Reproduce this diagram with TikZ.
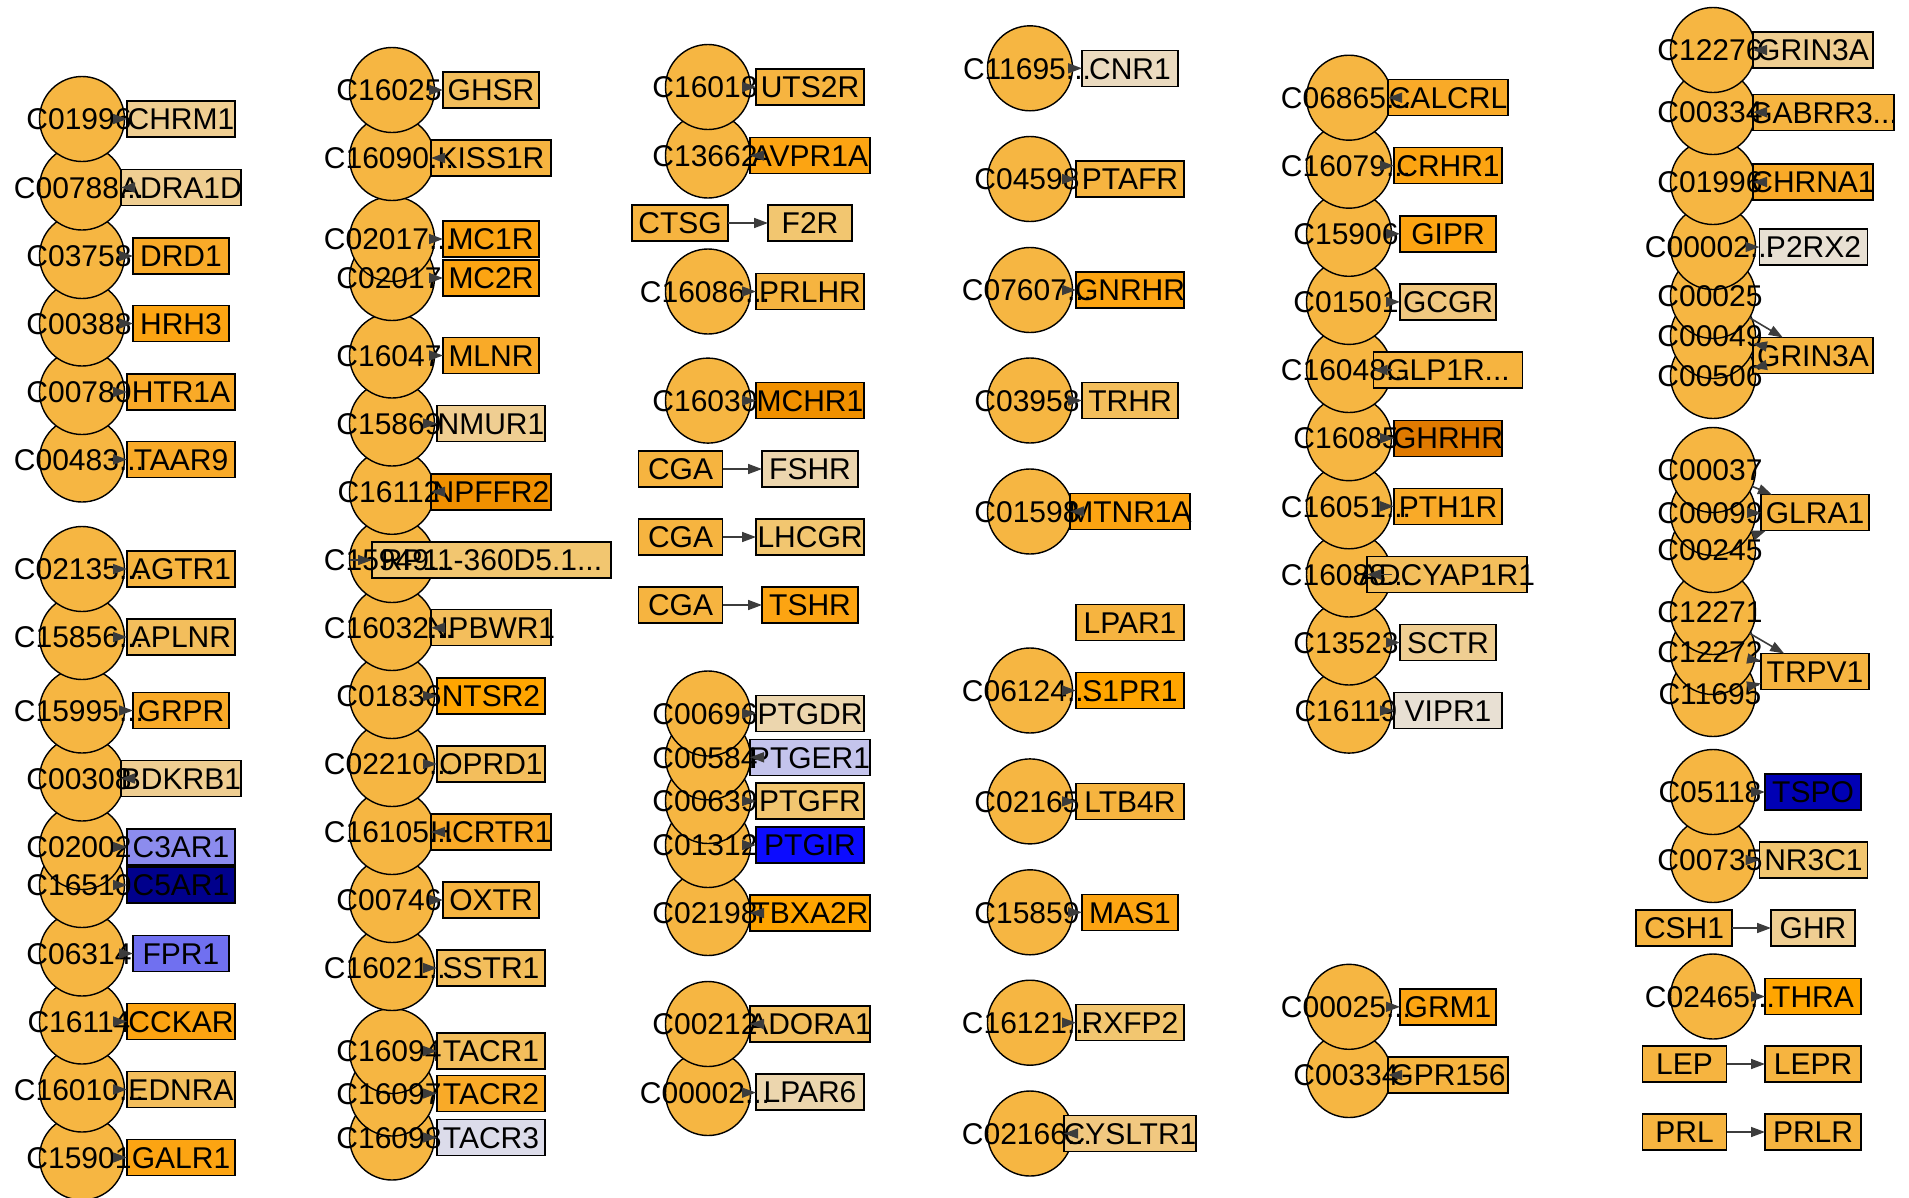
\documentclass[tikz,border=0pt]{standalone}
\usepackage{fontspec}
\setmainfont{Liberation Sans}
\usetikzlibrary{arrows.meta}
\pgfdeclarelayer{paper}
\pgfdeclarelayer{bg}
\pgfsetlayers{paper,bg,main}
\definecolor{cpdfill}{RGB}{246,182,66}
\definecolor{t1}{RGB}{239,206,146}
\definecolor{t1b}{RGB}{241,200,128}
\definecolor{t2}{RGB}{236,214,174}
\definecolor{t2b}{RGB}{235,219,192}
\definecolor{t3}{RGB}{232,224,211}
\definecolor{o0}{RGB}{242,198,112}
\definecolor{o1}{RGB}{243,190,92}
\definecolor{o2}{RGB}{246,180,64}
\definecolor{o3}{RGB}{249,170,40}
\definecolor{o4}{RGB}{252,164,18}
\definecolor{o5}{RGB}{255,165,0}
\definecolor{o6}{RGB}{240,144,0}
\definecolor{o7}{RGB}{224,122,0}
\definecolor{lav}{RGB}{220,220,234}
\definecolor{peri}{RGB}{196,196,236}
\definecolor{b1}{RGB}{140,140,238}
\definecolor{b2}{RGB}{112,112,240}
\definecolor{b3}{RGB}{12,12,255}
\definecolor{b4}{RGB}{0,0,180}
\definecolor{b5}{RGB}{0,0,140}
\definecolor{edgecol}{RGB}{60,60,60}
\newcommand\ctext[1]{\hbox to 0pt{\hss#1\hss}}
\newcommand\cltext[1]{\hbox to 0pt{\hss#1\hss\kern6pt}}
\tikzset{
  lbl/.style={font=\fontsize{30}{32}\selectfont, text height=21.5pt, text depth=0pt, inner sep=0pt, outer sep=0pt},
  cpdshape/.style={draw=black, line width=1.4pt, fill=cpdfill},
  cpd/.style={lbl, circle, minimum size=85pt},
  gene/.style 2 args={lbl, rectangle, draw=black, line width=1.4pt, fill=#2, minimum width=#1pt, minimum height=36pt},
  arr/.style={draw=edgecol, line width=1.6pt, -{Triangle[length=14pt,width=10pt]}}
}
\newcommand\cpd[4]{%
  \begin{pgfonlayer}{bg}\draw[cpdshape] (#2,#3) circle[radius=42.5pt];\end{pgfonlayer}
  \node[cpd] (#1) at (#2,#3) {\cltext{#4}};}
\begin{document}
\begin{tikzpicture}[x=1pt,y=-1pt]
\begin{pgfonlayer}{paper}
\fill[white] (0,0) rectangle (1909,1197);
\end{pgfonlayer}
\useasboundingbox (0,0) rectangle (1909,1197);
% ---------------- column 1 boxes
\node[gene={108}{t1}] (ga1) at (181,119) {\ctext{CHRM1}};
\node[gene={120}{t1}] (ga2) at (181,187.5) {\ctext{ADRA1D}};
\node[gene={96}{o3}] (ga3) at (181,256) {\ctext{DRD1}};
\node[gene={96}{o4}] (ga4) at (181,323.5) {\ctext{HRH3}};
\node[gene={108}{o3}] (ga5) at (181,392) {\ctext{HTR1A}};
\node[gene={108}{o3}] (ga6) at (181,459.5) {\ctext{TAAR9}};
\node[gene={108}{o2}] (ga7) at (181,569) {\ctext{AGTR1}};
\node[gene={108}{o1}] (ga8) at (181,637) {\ctext{APLNR}};
\node[gene={96}{o3}] (ga9) at (181,710.5) {\ctext{GRPR}};
\node[gene={120}{t1}] (ga10) at (181,778.5) {\ctext{BDKRB1}};
\node[gene={108}{b1}] (ga11) at (181,847) {\ctext{C3AR1}};
\node[gene={108}{b5}] (ga12) at (181,885) {\ctext{C5AR1}};
\node[gene={96}{b2}] (ga13) at (181,953.5) {\ctext{FPR1}};
\node[gene={108}{o4}] (ga14) at (181,1021.5) {\ctext{CCKAR}};
\node[gene={108}{o1}] (ga15) at (181,1089.5) {\ctext{EDNRA}};
\node[gene={108}{o4}] (ga16) at (181,1157.5) {\ctext{GALR1}};
% ---------------- column 2 boxes
\node[gene={96}{o1}] (gb1) at (491,90) {\ctext{GHSR}};
\node[gene={120}{o2}] (gb2) at (491,158) {\ctext{KISS1R}};
\node[gene={96}{o4}] (gb3) at (491,239) {\ctext{MC1R}};
\node[gene={96}{o4}] (gb4) at (491,278) {\ctext{MC2R}};
\node[gene={96}{o3}] (gb5) at (491,355.5) {\ctext{MLNR}};
\node[gene={108}{t1}] (gb6) at (491,423.5) {\ctext{NMUR1}};
\node[gene={120}{o6}] (gb7) at (491,491.8) {\ctext{NPFFR2}};
\node[gene={239}{o0}] (gb8) at (491.5,560) {\ctext{RP11-360D5.1...}};
\node[gene={120}{o1}] (gb9) at (491,627.5) {\ctext{NPBWR1}};
\node[gene={108}{o5}] (gb10) at (491,696) {\ctext{NTSR2}};
\node[gene={108}{o1}] (gb11) at (491,764) {\ctext{OPRD1}};
\node[gene={120}{o3}] (gb12) at (491,832) {\ctext{HCRTR1}};
\node[gene={96}{o2}] (gb13) at (491,900) {\ctext{OXTR}};
\node[gene={108}{o1}] (gb14) at (491,968) {\ctext{SSTR1}};
\node[gene={108}{o1}] (gb15) at (491,1051) {\ctext{TACR1}};
\node[gene={108}{o3}] (gb16) at (491,1093.5) {\ctext{TACR2}};
\node[gene={108}{lav}] (gb17) at (491,1137.5) {\ctext{TACR3}};
% ---------------- column 3 boxes
\node[gene={108}{o2}] (gc1) at (810,87) {\ctext{UTS2R}};
\node[gene={120}{o4}] (gc2) at (810,155.5) {\ctext{AVPR1A}};
\node[gene={96}{o2}] (lc3) at (680,223) {\ctext{CTSG}};
\node[gene={84}{o0}] (gc3) at (810,223) {\ctext{F2R}};
\node[gene={108}{o2}] (gc4) at (810,291.5) {\ctext{PRLHR}};
\node[gene={108}{o6}] (gc5) at (810,400.6) {\ctext{MCHR1}};
\node[gene={84}{o2}] (lc6) at (680.5,469) {\ctext{CGA}};
\node[gene={96}{t2}] (gc6) at (810,469) {\ctext{FSHR}};
\node[gene={84}{o2}] (lc7) at (680.5,537) {\ctext{CGA}};
\node[gene={108}{o0}] (gc7) at (810,537) {\ctext{LHCGR}};
\node[gene={84}{o2}] (lc8) at (680.5,605) {\ctext{CGA}};
\node[gene={96}{o4}] (gc8) at (810,605) {\ctext{TSHR}};
\node[gene={108}{t2}] (gc9) at (810,713.5) {\ctext{PTGDR}};
\node[gene={120}{peri}] (gc10) at (810,757.3) {\ctext{PTGER1}};
\node[gene={108}{o0}] (gc11) at (810,801) {\ctext{PTGFR}};
\node[gene={108}{b3}] (gc12) at (810,845) {\ctext{PTGIR}};
\node[gene={120}{o5}] (gc13) at (810,913) {\ctext{TBXA2R}};
\node[gene={120}{o1}] (gc14) at (810,1024) {\ctext{ADORA1}};
\node[gene={108}{t2}] (gc15) at (810,1092) {\ctext{LPAR6}};
% ---------------- column 4 boxes
\node[gene={96}{t2b}] (gd1) at (1130,68.3) {\ctext{CNR1}};
\node[gene={108}{o2}] (gd2) at (1130,179) {\ctext{PTAFR}};
\node[gene={108}{o4}] (gd3) at (1130,290) {\ctext{GNRHR}};
\node[gene={96}{o1}] (gd4) at (1130,400.5) {\ctext{TRHR}};
\node[gene={120}{o4}] (gd5) at (1130,511.5) {\ctext{MTNR1A}};
\node[gene={108}{o2}] (gd6) at (1130,622.5) {\ctext{LPAR1}};
\node[gene={108}{o5}] (gd7) at (1130,690.5) {\ctext{S1PR1}};
\node[gene={108}{o2}] (gd8) at (1130,801.4) {\ctext{LTB4R}};
\node[gene={96}{o4}] (gd9) at (1130,912.3) {\ctext{MAS1}};
\node[gene={108}{o0}] (gd10) at (1130,1022.7) {\ctext{RXFP2}};
\node[gene={132}{t1b}] (gd11) at (1130,1133.5) {\ctext{CYSLTR1}};
% ---------------- column 5 boxes
\node[gene={120}{o3}] (ge1) at (1448,97.7) {\ctext{CALCRL}};
\node[gene={108}{o4}] (ge2) at (1448,165.7) {\ctext{CRHR1}};
\node[gene={96}{o4}] (ge3) at (1448,233.8) {\ctext{GIPR}};
\node[gene={96}{t1b}] (ge4) at (1448,301.9) {\ctext{GCGR}};
\node[gene={149}{o2}] (ge5) at (1448,370) {\ctext{GLP1R...}};
\node[gene={108}{o7}] (ge6) at (1448,438.2) {\ctext{GHRHR}};
\node[gene={108}{o3}] (ge7) at (1448,506.3) {\ctext{PTH1R}};
\node[gene={160}{o1}] (ge8) at (1447,574.5) {\ctext{ADCYAP1R1}};
\node[gene={96}{t1}] (ge9) at (1448,642.5) {\ctext{SCTR}};
\node[gene={108}{t3}] (ge10) at (1448,710.6) {\ctext{VIPR1}};
\node[gene={96}{o4}] (ge11) at (1448,1006.8) {\ctext{GRM1}};
\node[gene={120}{o2}] (ge12) at (1448,1075) {\ctext{GPR156}};
% ---------------- column 6 boxes
\node[gene={120}{t1}] (gf1) at (1813,50) {\ctext{GRIN3A}};
\node[gene={141}{o2}] (gf2) at (1823.5,112.5) {\ctext{GABRR3...}};
\node[gene={120}{o3}] (gf3) at (1813,182) {\ctext{CHRNA1}};
\node[gene={108}{t3}] (gf4) at (1813.5,247) {\ctext{P2RX2}};
\node[gene={120}{o2}] (gf5) at (1813,355.5) {\ctext{GRIN3A}};
\node[gene={108}{o2}] (gf6) at (1815,512.6) {\ctext{GLRA1}};
\node[gene={108}{o2}] (gf7) at (1815,671.5) {\ctext{TRPV1}};
\node[gene={96}{b4}] (gf8) at (1813,792) {\ctext{TSPO}};
\node[gene={108}{o0}] (gf9) at (1813.5,860) {\ctext{NR3C1}};
\node[gene={96}{o2}] (lf10) at (1684,928) {\ctext{CSH1}};
\node[gene={84}{t1}] (gf10) at (1813,928) {\ctext{GHR}};
\node[gene={96}{o5}] (gf11) at (1813,996.5) {\ctext{THRA}};
\node[gene={84}{o2}] (lf12) at (1684.5,1064) {\ctext{LEP}};
\node[gene={96}{o2}] (gf12) at (1813,1064) {\ctext{LEPR}};
\node[gene={84}{o2}] (lf13) at (1684.5,1132) {\ctext{PRL}};
\node[gene={96}{o2}] (gf13) at (1813,1132) {\ctext{PRLR}};
% ---------------- compounds (lower ones first, upper ones on top)
\cpd{ca16}{82}{1157.5}{C15901}
\cpd{ca15}{82}{1089.5}{C16010...}
\cpd{ca14}{82}{1021.5}{C16114}
\cpd{ca13}{82}{953.5}{C06314}
\cpd{ca12}{82}{885}{C16510}
\cpd{ca11}{82}{847}{C02002}
\cpd{ca10}{82}{778.5}{C00308}
\cpd{ca9}{82}{710.5}{C15995...}
\cpd{ca8}{82}{637}{C15856...}
\cpd{ca7}{82}{569}{C02135...}
\cpd{ca6}{82}{459.5}{C00483...}
\cpd{ca5}{82}{392}{C00780}
\cpd{ca4}{82}{323.5}{C00388}
\cpd{ca3}{82}{256}{C03758}
\cpd{ca2}{82}{187.5}{C00788...}
\cpd{ca1}{82}{119}{C01996}
%
\cpd{cb17}{392}{1137.5}{C16098}
\cpd{cb16}{392}{1093.5}{C16097}
\cpd{cb15}{392}{1051}{C16094}
\cpd{cb14}{392}{968}{C16021...}
\cpd{cb13}{392}{900}{C00746}
\cpd{cb12}{392}{832}{C16105...}
\cpd{cb11}{392}{764}{C02210...}
\cpd{cb10}{392}{696}{C01836}
\cpd{cb9}{392}{628}{C16032...}
\cpd{cb8}{392}{560}{C15949...}
\cpd{cb7}{392}{491.8}{C16112}
\cpd{cb6}{392}{423.5}{C15869}
\cpd{cb5}{392}{355.5}{C16047}
\cpd{cb4}{392}{278}{C02017}
\cpd{cb3}{392}{239}{C02017...}
\cpd{cb2}{392}{158}{C16090...}
\cpd{cb1}{392}{90}{C16025}
%
\cpd{cc15}{708}{1093}{C00002...}
\cpd{cc14}{708}{1024}{C00212}
\cpd{cc13}{708}{913}{C02198}
\cpd{cc12}{708}{845}{C01312}
\cpd{cc11}{708}{801}{C00639}
\cpd{cc10}{708}{757.3}{C00584}
\cpd{cc9}{708}{713.5}{C00696}
\cpd{cc5}{708}{400.6}{C16030}
\cpd{cc4}{708}{291.5}{C16086...}
\cpd{cc2}{708}{155.5}{C13662}
\cpd{cc1}{708}{87}{C16018}
%
\cpd{cd11}{1030}{1133.5}{C02166...}
\cpd{cd10}{1030}{1022.7}{C16121...}
\cpd{cd9}{1030}{912.3}{C15859}
\cpd{cd8}{1030}{801.4}{C02165}
\cpd{cd7}{1030}{690.5}{C06124...}
\cpd{cd5}{1030}{511.5}{C01598}
\cpd{cd4}{1030}{400.5}{C03958}
\cpd{cd3}{1030}{290}{C07607...}
\cpd{cd2}{1030}{179}{C04598}
\cpd{cd1}{1030}{68.3}{C11695...}
%
\cpd{ce12}{1349}{1075}{C00334}
\cpd{ce11}{1349}{1006.8}{C00025...}
\cpd{ce10}{1349}{710.6}{C16119}
\cpd{ce9}{1349}{642.5}{C13523}
\cpd{ce8}{1349}{574.5}{C16088...}
\cpd{ce7}{1349}{506.3}{C16051...}
\cpd{ce6}{1349}{438.2}{C16085}
\cpd{ce5}{1349}{370}{C16048...}
\cpd{ce4}{1349}{301.9}{C01501}
\cpd{ce3}{1349}{233.8}{C15906}
\cpd{ce2}{1349}{165.7}{C16079...}
\cpd{ce1}{1349}{97.7}{C06865...}
%
\cpd{cf11}{1713}{996.5}{C02465...}
\cpd{cf9}{1713}{860}{C00735}
\cpd{cf8}{1713}{792}{C05118}
\cpd{cf7c}{1713}{694}{C11695}
\cpd{cf7b}{1713}{652}{C12272}
\cpd{cf7a}{1713}{612}{C12271}
\cpd{cf6c}{1713}{550}{C00245}
\cpd{cf6b}{1713}{513}{C00099}
\cpd{cf6a}{1713}{470}{C00037}
\cpd{cf5c}{1713}{376}{C00506}
\cpd{cf5b}{1713}{336}{C00049}
\cpd{cf5a}{1713}{296}{C00025}
\cpd{cf4}{1713}{247}{C00002...}
\cpd{cf3}{1713}{182}{C01996}
\cpd{cf2}{1713}{112}{C00334}
\cpd{cf1}{1713}{50}{C12276}
% ---------------- connectors
\foreach \i in {1,...,16} {\draw[arr] (ca\i) -- (ga\i);}
\foreach \i in {1,...,17} {\draw[arr] (cb\i) -- (gb\i);}
\foreach \i in {1,2,4,5,9,10,11,12,13,14,15} {\draw[arr] (cc\i) -- (gc\i);}
\foreach \i in {3,6,7,8} {\draw[arr] (lc\i) -- (gc\i);}
\foreach \i in {1,2,3,4,5,7,8,9,10,11} {\draw[arr] (cd\i) -- (gd\i);}
\foreach \i in {1,...,12} {\draw[arr] (ce\i) -- (ge\i);}
\foreach \i in {1,2,3,4,8,9,11} {\draw[arr] (cf\i) -- (gf\i);}
\foreach \s in {a,b,c} {\draw[arr] (cf5\s) -- (gf5); \draw[arr] (cf6\s) -- (gf6); \draw[arr] (cf7\s) -- (gf7);}
\foreach \i in {10,12,13} {\draw[arr] (lf\i) -- (gf\i);}
\end{tikzpicture}
\end{document}
